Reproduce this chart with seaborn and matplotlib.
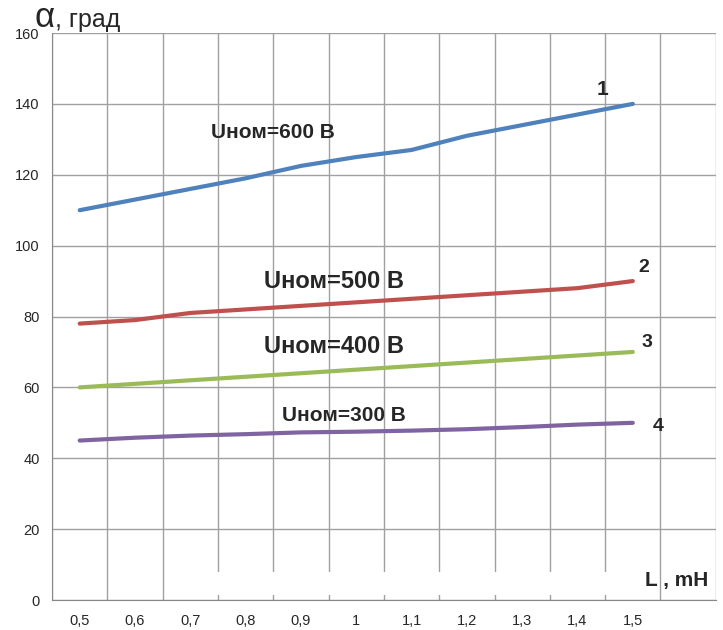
import numpy as np
import pandas as pd
import matplotlib
matplotlib.use('Agg')
import matplotlib.pyplot as plt
from matplotlib.patches import Rectangle
import seaborn as sns

# данные: L (мГн) и угол alpha (град) для разных Uном
L = [0.5, 0.6, 0.7, 0.8, 0.9, 1.0, 1.1, 1.2, 1.3, 1.4, 1.5]
alpha_600 = [110, 113, 116, 119, 122.5, 125, 127, 131, 134, 137, 140]
alpha_500 = [78, 79, 81, 82, 83, 84, 85, 86, 87, 88, 90]
alpha_400 = [60, 61, 62, 63, 64, 65, 66, 67, 68, 69, 70]
alpha_300 = [45, 45.8, 46.4, 46.8, 47.3, 47.5, 47.8, 48.2, 48.8, 49.5, 50]
series_names = ['1', '2', '3', '4']
colors = ['#4F81BD', '#C0504D', '#9BBB59', '#8064A2']
x_labels = ['0,5', '0,6', '0,7', '0,8', '0,9', '1', '1,1', '1,2', '1,3', '1,4', '1,5']

df = pd.DataFrame({'L': L, '1': alpha_600, '2': alpha_500, '3': alpha_400, '4': alpha_300})
df = df.melt(id_vars='L', var_name='curve', value_name='alpha')

sns.set_style('white')
plt.rcParams['font.family'] = ['Liberation Sans', 'DejaVu Sans']

fig = plt.figure(figsize=(7.23, 6.3), dpi=100)
ax = fig.add_axes([0.072, 0.0476, 0.918, 0.90])

sns.lineplot(data=df, x='L', y='alpha', hue='curve', hue_order=series_names,
             palette=colors, linewidth=3, legend=False, ax=ax, zorder=3)

# оси как в Excel: категории со свободным слотом справа
ax.set_xlim(0.45, 1.65)
ax.set_ylim(0, 160)
ax.set_xticks(L)
ax.set_xticklabels(x_labels, fontsize=10.5)
ax.set_xticks(np.arange(0.45, 1.66, 0.1), minor=True)
ax.set_yticks(range(0, 161, 20))
ax.tick_params(axis='y', labelsize=10.5, length=5, color='#888888', pad=4)
ax.tick_params(axis='x', which='major', length=0, pad=10)
ax.tick_params(axis='x', which='minor', length=10, direction='inout', color='#888888')
ax.grid(True, which='minor', axis='x', color='#A0A0A0', linewidth=1)
ax.grid(True, which='major', axis='y', color='#A0A0A0', linewidth=1)
ax.set_axisbelow(True)
for s in ['top', 'right']:
    ax.spines[s].set_visible(False)
for s in ['left', 'bottom']:
    ax.spines[s].set_color('#888888')
ax.set_xlabel('')
ax.set_ylabel('')

# белая плашка под подписью оси L
ax.add_patch(Rectangle((0.74, 1.4), 0.72, 6.5, facecolor='white', edgecolor='none', zorder=1.5))

# подписи кривых
ax.text(0.85, 132, 'Uном=600 В', fontsize=15, fontweight='bold', ha='center', va='center')
ax.text(0.96, 90, 'Uном=500 В', fontsize=17, fontweight='bold', ha='center', va='center')
ax.text(0.96, 71.5, 'Uном=400 В', fontsize=17, fontweight='bold', ha='center', va='center')
ax.text(0.978, 52, 'Uном=300 В', fontsize=15, fontweight='bold', ha='center', va='center')
ax.text(1.446, 144, '1', fontsize=15, fontweight='bold', ha='center', va='center')
ax.text(1.52, 93.7, '2', fontsize=14, fontweight='bold', ha='center', va='center')
ax.text(1.526, 72.8, '3', fontsize=14, fontweight='bold', ha='center', va='center')
ax.text(1.546, 49.1, '4', fontsize=14, fontweight='bold', ha='center', va='center')
ax.text(1.58, 5.5, 'L , mH', fontsize=15, fontweight='bold', ha='center', va='center')

fig.text(0.048, 0.957, 'α', fontsize=25, ha='left', va='baseline')
fig.text(0.076, 0.957, ', град', fontsize=18, ha='left', va='baseline')

fig.savefig('out.png', dpi=100)
